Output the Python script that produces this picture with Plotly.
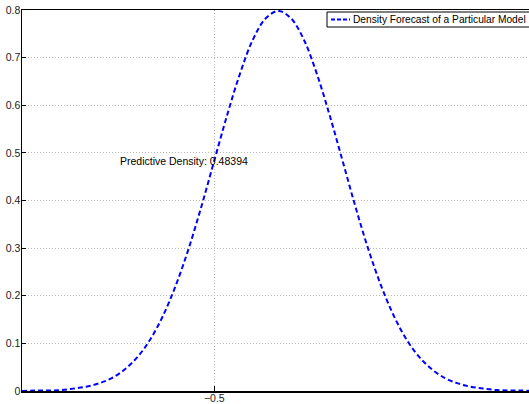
import plotly.graph_objects as go

# Data
x_vals = [-2.0, -1.9, -1.8, -1.7, -1.6, -1.5, -1.4, -1.3, -1.2, -1.1, -1.0,
          -0.9, -0.8, -0.7, -0.6, -0.5, -0.4, -0.3, -0.2, -0.1, 0.0,
          0.1, 0.2, 0.3, 0.4, 0.5, 0.6, 0.7, 0.8, 0.9, 1.0,
          1.1, 1.2, 1.3, 1.4, 1.5, 1.6, 1.7, 1.8, 1.9, 2.0]
density = [0.000, 0.001, 0.001, 0.002, 0.005, 0.009, 0.016, 0.027, 0.045, 0.071, 0.108,
           0.158, 0.222, 0.299, 0.388, 0.484, 0.579, 0.666, 0.737, 0.782, 0.798,
           0.782, 0.737, 0.666, 0.579, 0.484, 0.388, 0.299, 0.222, 0.158, 0.108,
           0.071, 0.045, 0.027, 0.016, 0.009, 0.005, 0.002, 0.001, 0.001, 0.000]
series_name = "Density Forecast of a Particular Model"
annot_text = "Predictive Density: 0.48394"
annot_y = 0.48394
x_ticks = [-0.5]
x_ticklabels = ["\u22120.5"]
y_ticks = [0, 0.1, 0.2, 0.3, 0.4, 0.5, 0.6, 0.7, 0.8]
y_ticklabels = ["0", "0.1", "0.2", "0.3", "0.4", "0.5", "0.6", "0.7", "0.8"]

FONT = "Liberation Sans, Arial, Helvetica, sans-serif"
BLUE = "#0000ff"
GRID = "#b8b8b8"
FS = 10.5

fig = go.Figure()
fig.add_trace(go.Scatter(
    x=x_vals, y=density, mode="lines", name=series_name,
    line=dict(color=BLUE, width=2, dash="5px,3px", shape="spline"),
    showlegend=False, cliponaxis=True,
))

fig.update_layout(
    width=529, height=404,
    margin=dict(l=22, r=0, t=10, b=13, pad=0, autoexpand=False),
    paper_bgcolor="white", plot_bgcolor="white",
    font=dict(family=FONT, size=FS, color="#000000"),
    showlegend=False,
)
fig.update_xaxes(
    range=[-2.0, 1.955], tickvals=x_ticks, ticktext=x_ticklabels,
    showgrid=True, gridcolor=GRID, griddash="1px,2px", gridwidth=1,
    zeroline=False, showline=True, linecolor="black", linewidth=1.5, mirror=True,
    ticks="inside", ticklen=5, tickcolor="black", tickwidth=1,
    tickfont=dict(size=FS, family=FONT, color="#1a1a1a"),
    automargin=False, ticklabelstandoff=-3,
)
fig.update_yaxes(
    range=[0, 0.8], tickvals=y_ticks, ticktext=y_ticklabels,
    showgrid=True, gridcolor=GRID, griddash="1px,2px", gridwidth=1,
    zeroline=False, showline=True, linecolor="black", linewidth=1.5, mirror=False,
    ticks="inside", ticklen=4, tickcolor="black", tickwidth=1,
    tickfont=dict(size=FS, family=FONT, color="#1a1a1a"),
    automargin=False, ticklabelstandoff=-2,
)

fig.add_annotation(
    x=-1.25, y=annot_y, xref="x", yref="y", text=annot_text,
    showarrow=False, xanchor="left", yanchor="middle",
    font=dict(size=FS, family=FONT, color="#000000"),
)

# Manual legend box (MATLAB style), clipped at window's right edge
W = 507.0
H = 381.0
def px(xp):
    return (xp - 22) / W
def py(yp):
    return (391 - yp) / H

fig.add_shape(type="rect", xref="paper", yref="paper",
              x0=px(327), x1=px(545), y0=py(27), y1=py(12),
              line=dict(color="black", width=1), fillcolor="white", layer="above")
fig.add_shape(type="line", xref="paper", yref="paper",
              x0=px(331), x1=px(350), y0=py(19.5), y1=py(19.5),
              line=dict(color=BLUE, width=2, dash="4px,2px"), layer="above")
fig.add_annotation(
    x=px(352), y=py(19.5), xref="paper", yref="paper", text=series_name,
    showarrow=False, xanchor="left", yanchor="middle", borderpad=0,
    font=dict(size=10.2, family=FONT, color="#000000"),
)

fig.write_html(
    "out.html",
    config={"displayModeBar": False, "staticPlot": True},
    post_script="document.body.style.margin='0';document.body.style.padding='0';"
                "document.body.style.overflow='hidden';"
                "document.documentElement.style.overflow='hidden';",
)
